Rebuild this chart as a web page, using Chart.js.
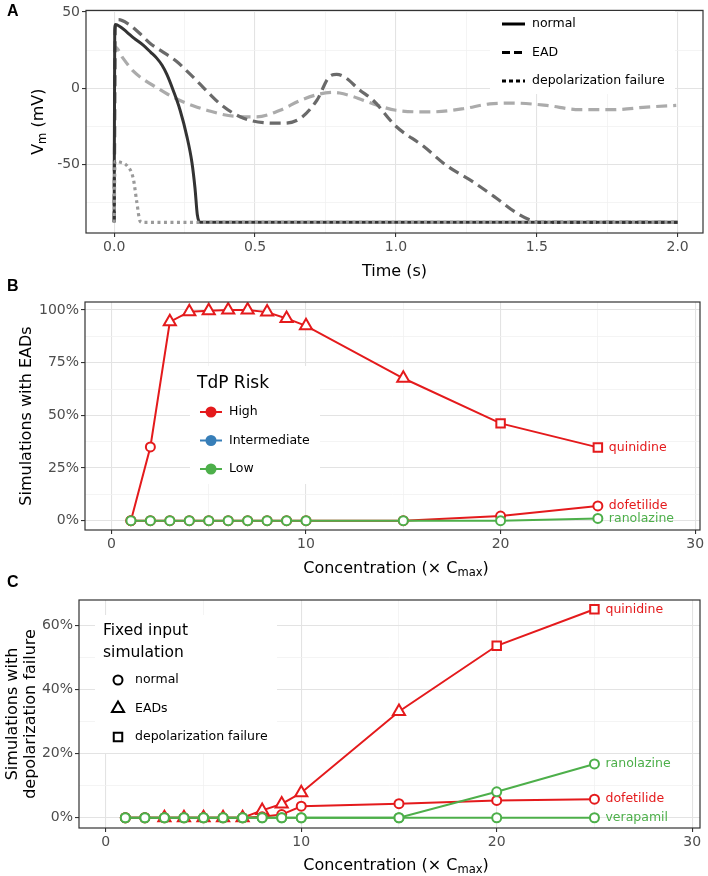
<!DOCTYPE html>
<html>
<head>
<meta charset="utf-8">
<title>Vm traces and drug simulations</title>
<script src="https://cdn.jsdelivr.net/npm/chart.js@4.4.1/dist/chart.umd.min.js"></script>
<style>
  body { margin: 0; background: #fff; }
  .wrap { position: relative; width: 708px; height: 876px; }
  canvas { position: absolute; left: 0; }
</style>
</head>
<body>
<div class="wrap">
  <canvas id="chartVm" width="708" height="280" style="top:0px"></canvas>
  <canvas id="chartEad" width="708" height="308" style="top:272px"></canvas>
  <canvas id="chartFail" width="708" height="301" style="top:575px"></canvas>
</div>
<script>
const FONT = "'DejaVu Sans', Verdana, sans-serif";
const RED = '#E41A1C', GREEN = '#4DAF4A', BLUE = '#377EB8';

// panel A: action potential traces, time (s) and Vm (mV)
const normalTime = [0, 0.002, 0.005, 0.02, 0.045, 0.07, 0.103, 0.13, 0.151, 0.17, 0.187, 0.21, 0.234, 0.258, 0.276, 0.287, 0.295, 0.305, 0.32, 1.0, 2.0];
const normalVm = [-88, 38, 41.7, 40.5, 36.8, 32.8, 28.2, 23.5, 19.7, 15, 9, -1.7, -14.5, -31.6, -48.7, -65.8, -82.9, -88, -88, -88, -88];

const ead1Time = [0, 0.004, 0.015, 0.05, 0.09, 0.128, 0.175, 0.222, 0.265, 0.305, 0.34, 0.376, 0.447, 0.53, 0.6, 0.66, 0.719, 0.766, 0.79, 0.82, 0.87, 0.92, 1.0, 1.097, 1.18, 1.274, 1.357, 1.428, 1.487, 1.51, 2.0];
const ead1Vm = [-88, 40, 44.9, 42.1, 36, 29.3, 23.5, 17.5, 10, 2.6, -4, -10.3, -18.8, -22.6, -23, -19.9, -8.1, 7.9, 9, 7, -1, -8.1, -25, -38, -50.8, -61.5, -72.2, -81.8, -87.2, -88, -88];

const ead2Time = [0, 0.004, 0.03, 0.068, 0.11, 0.151, 0.19, 0.234, 0.28, 0.329, 0.423, 0.506, 0.589, 0.66, 0.73, 0.778, 0.8, 0.849, 0.92, 1.0, 1.12, 1.239, 1.333, 1.416, 1.534, 1.652, 1.77, 1.89, 1.995];
const ead2Vm = [-88, 27, 20, 11.1, 5, 0.4, -4, -8.1, -11.5, -14.5, -18.4, -18.8, -14.5, -8.1, -3.8, -2.8, -3.2, -5.6, -10.3, -14.5, -15.6, -13.5, -10.3, -9.8, -11.3, -14.1, -14.1, -12.4, -11.3];

const failTime = [0, 0.003, 0.02, 0.045, 0.068, 0.08, 0.092, 0.1, 2.0];
const failVm = [-88, -48, -48.5, -50.8, -59.4, -74.4, -87.2, -88, -88];

const traceTypes = ['normal', 'EAD', 'depolarization failure'];
const timeTicks = [0, 0.5, 1, 1.5, 2];
const timeTickLabels = ['0.0', '0.5', '1.0', '1.5', '2.0'];
const timeMinor = [0.25, 0.75, 1.25, 1.75];
const vmTicks = [-50, 0, 50];
const vmTickLabels = ['-50', '0', '50'];
const vmMinor = [-75, -25, 25];

// panels B and C: drug concentrations (x Cmax)
const concentration = [1, 2, 3, 4, 5, 6, 7, 8, 9, 10, 15, 20, 25];
// fixed input simulation outcome per concentration
const quinidineFixed = ['normal', 'normal', 'EAD', 'EAD', 'EAD', 'EAD', 'EAD', 'EAD', 'EAD', 'EAD', 'EAD', 'fail', 'fail'];
const allNormal = ['normal', 'normal', 'normal', 'normal', 'normal', 'normal', 'normal', 'normal', 'normal', 'normal', 'normal', 'normal', 'normal'];

// % of simulations with EADs
const quinidineEad = [0, 35, 94.4, 99.2, 99.7, 100, 100, 99, 96, 92.5, 67.6, 46.2, 34.8];
const dofetilideEad = [0, 0, 0, 0, 0, 0, 0, 0, 0, 0, 0, 2.2, 7];
const ranolazineEad = [0, 0, 0, 0, 0, 0, 0, 0, 0, 0, 0, 0, 1.1];

// % of simulations with depolarization failure
const quinidineFail = [0, 0, 0, 0, 0, 0, 0, 2.3, 4.3, 7.8, 33.2, 53.7, 65.1];
const dofetilideFail = [0, 0, 0, 0, 0, 0, 0, 0.3, 1, 3.6, 4.4, 5.4, 5.8];
const ranolazineFail = [0, 0, 0, 0, 0, 0, 0, 0, 0, 0, 0, 8.1, 16.8];
const verapamilFail = [0, 0, 0, 0, 0, 0, 0, 0, 0, 0, 0, 0, 0];

const riskLevels = ['High', 'Intermediate', 'Low'];
const fixedOutcomes = ['normal', 'EADs', 'depolarization failure'];

const concTicks = [0, 10, 20, 30];
const concTickLabels = ['0', '10', '20', '30'];
const concMinor = [5, 15, 25];
const eadTicks = [0, 25, 50, 75, 100];
const eadTickLabels = ['0%', '25%', '50%', '75%', '100%'];
const eadMinor = [12.5, 37.5, 62.5, 87.5];
const failTicks = [0, 20, 40, 60];
const failTickLabels = ['0%', '20%', '40%', '60%'];
const failMinor = [10, 30, 50];

const SHAPE = { normal: 'circle', EAD: 'triangle', fail: 'rect' };
const SIZE = { normal: 4.5, EAD: 7, fail: 6 };

function axis(min, max, majors, labels, minors, fit) {
  const all = majors.concat(minors).sort((a, b) => a - b);
  const isMajor = c => c.tick && majors.includes(c.tick.value);
  return {
    type: 'linear', min: min, max: max,
    afterBuildTicks: s => { s.ticks = all.map(v => ({ value: v })); },
    afterFit: fit,
    border: { display: false },
    grid: {
      color: c => isMajor(c) ? '#e3e3e3' : '#f1f1f1',
      lineWidth: c => isMajor(c) ? 1.1 : 0.8,
      tickColor: c => isMajor(c) ? '#333' : 'rgba(0,0,0,0)',
      tickLength: 4, tickWidth: 1.1
    },
    ticks: {
      autoSkip: false, maxRotation: 0, padding: 2,
      color: '#4d4d4d', font: { family: FONT, size: 14 },
      callback: v => { const i = majors.indexOf(v); return i < 0 ? '' : labels[i]; }
    }
  };
}

function trace(t, v, color, dash, width, order) {
  return {
    data: t.map((x, i) => ({ x: x, y: v[i] })),
    borderColor: color, borderWidth: width, borderDash: dash,
    pointRadius: 0, fill: false, cubicInterpolationMode: 'monotone', order: order
  };
}

function drug(name, y, outcome, color, order) {
  return {
    label: name,
    data: concentration.map((x, i) => ({ x: x, y: y[i] })),
    borderColor: color, borderWidth: 2, order: order,
    pointStyle: outcome.map(o => SHAPE[o]),
    pointRadius: outcome.map(o => SIZE[o]),
    pointBorderColor: color, pointBackgroundColor: '#fff', pointBorderWidth: 2
  };
}

function richText(ctx, parts, x, y, size, rotate) {
  ctx.save();
  ctx.translate(x, y);
  if (rotate) ctx.rotate(-Math.PI / 2);
  const fontOf = sub => (sub ? size * 0.72 : size) + 'px ' + FONT;
  const widths = parts.map(p => { ctx.font = fontOf(p[1]); return ctx.measureText(p[0]).width; });
  let cx = -widths.reduce((a, b) => a + b, 0) / 2;
  ctx.fillStyle = '#000';
  ctx.textAlign = 'left';
  ctx.textBaseline = 'alphabetic';
  parts.forEach((p, i) => {
    ctx.font = fontOf(p[1]);
    ctx.fillText(p[0], cx, size * 0.36 + (p[1] ? size * 0.18 : 0));
    cx += widths[i];
  });
  ctx.restore();
}

function text(ctx, str, x, y, size, color, opts) {
  opts = opts || {};
  ctx.save();
  ctx.font = (opts.bold ? 'bold ' : '') + size + 'px ' + (opts.family || FONT);
  ctx.fillStyle = color;
  ctx.textAlign = opts.align || 'left';
  ctx.textBaseline = 'middle';
  ctx.fillText(str, x, y);
  ctx.restore();
}

function marker(ctx, style, x, y, r, color, fill) {
  ctx.save();
  ctx.lineWidth = 2;
  ctx.strokeStyle = color;
  ctx.fillStyle = fill;
  Chart.helpers.drawPoint(ctx, { pointStyle: style, radius: r, borderWidth: 2 }, x, y);
  ctx.restore();
}

function decor(opts) {
  return {
    id: 'decor',
    beforeDatasetsDraw(chart) {
      if (!opts.box) return;
      const ctx = chart.ctx, b = opts.box;
      ctx.save();
      ctx.fillStyle = '#fff';
      ctx.fillRect(b[0], b[1], b[2], b[3]);
      ctx.restore();
    },
    afterDraw(chart) {
      const ctx = chart.ctx, a = chart.chartArea;
      ctx.save();
      ctx.strokeStyle = '#333';
      ctx.lineWidth = 1.2;
      ctx.strokeRect(a.left, a.top, a.right - a.left, a.bottom - a.top);
      ctx.restore();
      text(ctx, opts.letter, 7, opts.letterY, 16, '#000', { bold: true, family: "'Liberation Sans', Arial, sans-serif" });
      if (opts.draw) opts.draw(chart, ctx, a);
      // drug name labels beside the last point
      chart.data.datasets.forEach((ds, i) => {
        if (!ds.label) return;
        const pts = chart.getDatasetMeta(i).data;
        const p = pts[pts.length - 1];
        text(ctx, ds.label, p.x + 11, p.y, 12.5, ds.borderColor);
      });
    }
  };
}

const common = { responsive: false, animation: false, events: [] };
const noLegend = { legend: { display: false }, tooltip: { enabled: false } };

// ---------- panel A ----------
new Chart(document.getElementById('chartVm'), {
  type: 'line',
  data: {
    datasets: [
      trace(ead2Time, ead2Vm, '#ababab', [11, 6], 3.2, 4),
      trace(ead1Time, ead1Vm, '#6a6a6a', [11, 6], 3.2, 3),
      trace(normalTime, normalVm, '#333333', [], 3, 2),
      trace(failTime, failVm, '#9a9a9a', [3, 3.5], 3.2, 1)
    ]
  },
  options: {
    ...common,
    layout: { padding: { left: 26, right: 5, top: 4, bottom: 17 } },
    scales: {
      x: axis(-0.1, 2.09, timeTicks, timeTickLabels, timeMinor, s => { s.height = 30; }),
      y: axis(-95, 51, vmTicks, vmTickLabels, vmMinor, s => { s.width = 60; })
    },
    plugins: noLegend
  },
  plugins: [decor({
    letter: 'A', letterY: 12,
    box: [490, 6, 185, 88],
    draw(chart, ctx, a) {
      richText(ctx, [['Time (s)', false]], (a.left + a.right) / 2, 270, 16, false);
      richText(ctx, [['V', false], ['m', true], [' (mV)', false]], 37, (a.top + a.bottom) / 2, 16, true);
      const dashes = [[], [8, 4], [4, 3]];
      traceTypes.forEach((t, i) => {
        const y = 24 + i * 28.5;
        ctx.save();
        ctx.strokeStyle = '#000';
        ctx.lineWidth = 3;
        ctx.setLineDash(dashes[i]);
        ctx.beginPath();
        ctx.moveTo(502, y);
        ctx.lineTo(525, y);
        ctx.stroke();
        ctx.restore();
        text(ctx, t, 532, y, 12.5, '#000');
      });
    }
  })]
});

// ---------- panel B ----------
new Chart(document.getElementById('chartEad'), {
  type: 'line',
  data: {
    datasets: [
      drug('ranolazine', ranolazineEad, allNormal, GREEN, 0),
      drug('dofetilide', dofetilideEad, allNormal, RED, 1),
      drug('quinidine', quinidineEad, quinidineFixed, RED, 2)
    ]
  },
  options: {
    ...common,
    layout: { padding: { left: 25, right: 5, top: 30, bottom: 20 } },
    scales: {
      x: axis(-1.36, 30.25, concTicks, concTickLabels, concMinor, s => { s.height = 30; }),
      y: axis(-4.4, 103.8, eadTicks, eadTickLabels, eadMinor, s => { s.width = 60; })
    },
    plugins: noLegend
  },
  plugins: [decor({
    letter: 'B', letterY: 15,
    box: [190, 94, 130, 118],
    draw(chart, ctx, a) {
      richText(ctx, [['Concentration (\u00D7 C', false], ['max', true], [')', false]], 396, 295, 16, false);
      richText(ctx, [['Simulations with EADs', false]], 25, (a.top + a.bottom) / 2, 16, true);
      text(ctx, 'TdP Risk', 197, 112, 17, '#000');
      const colors = [RED, BLUE, GREEN];
      riskLevels.forEach((r, i) => {
        const y = 140 + i * 28.5;
        ctx.save();
        ctx.strokeStyle = colors[i];
        ctx.lineWidth = 2;
        ctx.beginPath();
        ctx.moveTo(200, y);
        ctx.lineTo(222, y);
        ctx.stroke();
        ctx.fillStyle = colors[i];
        ctx.beginPath();
        ctx.arc(211, y, 5.5, 0, Math.PI * 2);
        ctx.fill();
        ctx.restore();
        text(ctx, r, 229, y, 12.5, '#000');
      });
    }
  })]
});

// ---------- panel C ----------
new Chart(document.getElementById('chartFail'), {
  type: 'line',
  data: {
    datasets: [
      drug('verapamil', verapamilFail, allNormal, GREEN, 0),
      drug('ranolazine', ranolazineFail, allNormal, GREEN, 1),
      drug('dofetilide', dofetilideFail, allNormal, RED, 2),
      drug('quinidine', quinidineFail, quinidineFixed, RED, 3)
    ]
  },
  options: {
    ...common,
    layout: { padding: { left: 23, right: 4, top: 25, bottom: 18 } },
    scales: {
      x: axis(-1.37, 30.4, concTicks, concTickLabels, concMinor, s => { s.height = 30; }),
      y: axis(-3.2, 68, failTicks, failTickLabels, failMinor, s => { s.width = 56; })
    },
    plugins: noLegend
  },
  plugins: [decor({
    letter: 'C', letterY: 8,
    box: [95, 40, 182, 138],
    draw(chart, ctx, a) {
      richText(ctx, [['Concentration (\u00D7 C', false], ['max', true], [')', false]], 396, 289, 16, false);
      const cy = (a.top + a.bottom) / 2;
      richText(ctx, [['Simulations with', false]], 11, cy, 16, true);
      richText(ctx, [['depolarization failure', false]], 29, cy, 16, true);
      text(ctx, 'Fixed input', 103, 56, 15.5, '#000');
      text(ctx, 'simulation', 103, 78, 15.5, '#000');
      const shapes = ['circle', 'triangle', 'rect'];
      const radii = [4.5, 7, 6];
      fixedOutcomes.forEach((f, i) => {
        const y = 105 + i * 28.5;
        marker(ctx, shapes[i], 118, y, radii[i], '#000', 'rgba(0,0,0,0)');
        text(ctx, f, 135, y, 12.5, '#000');
      });
    }
  })]
});
</script>
</body>
</html>
